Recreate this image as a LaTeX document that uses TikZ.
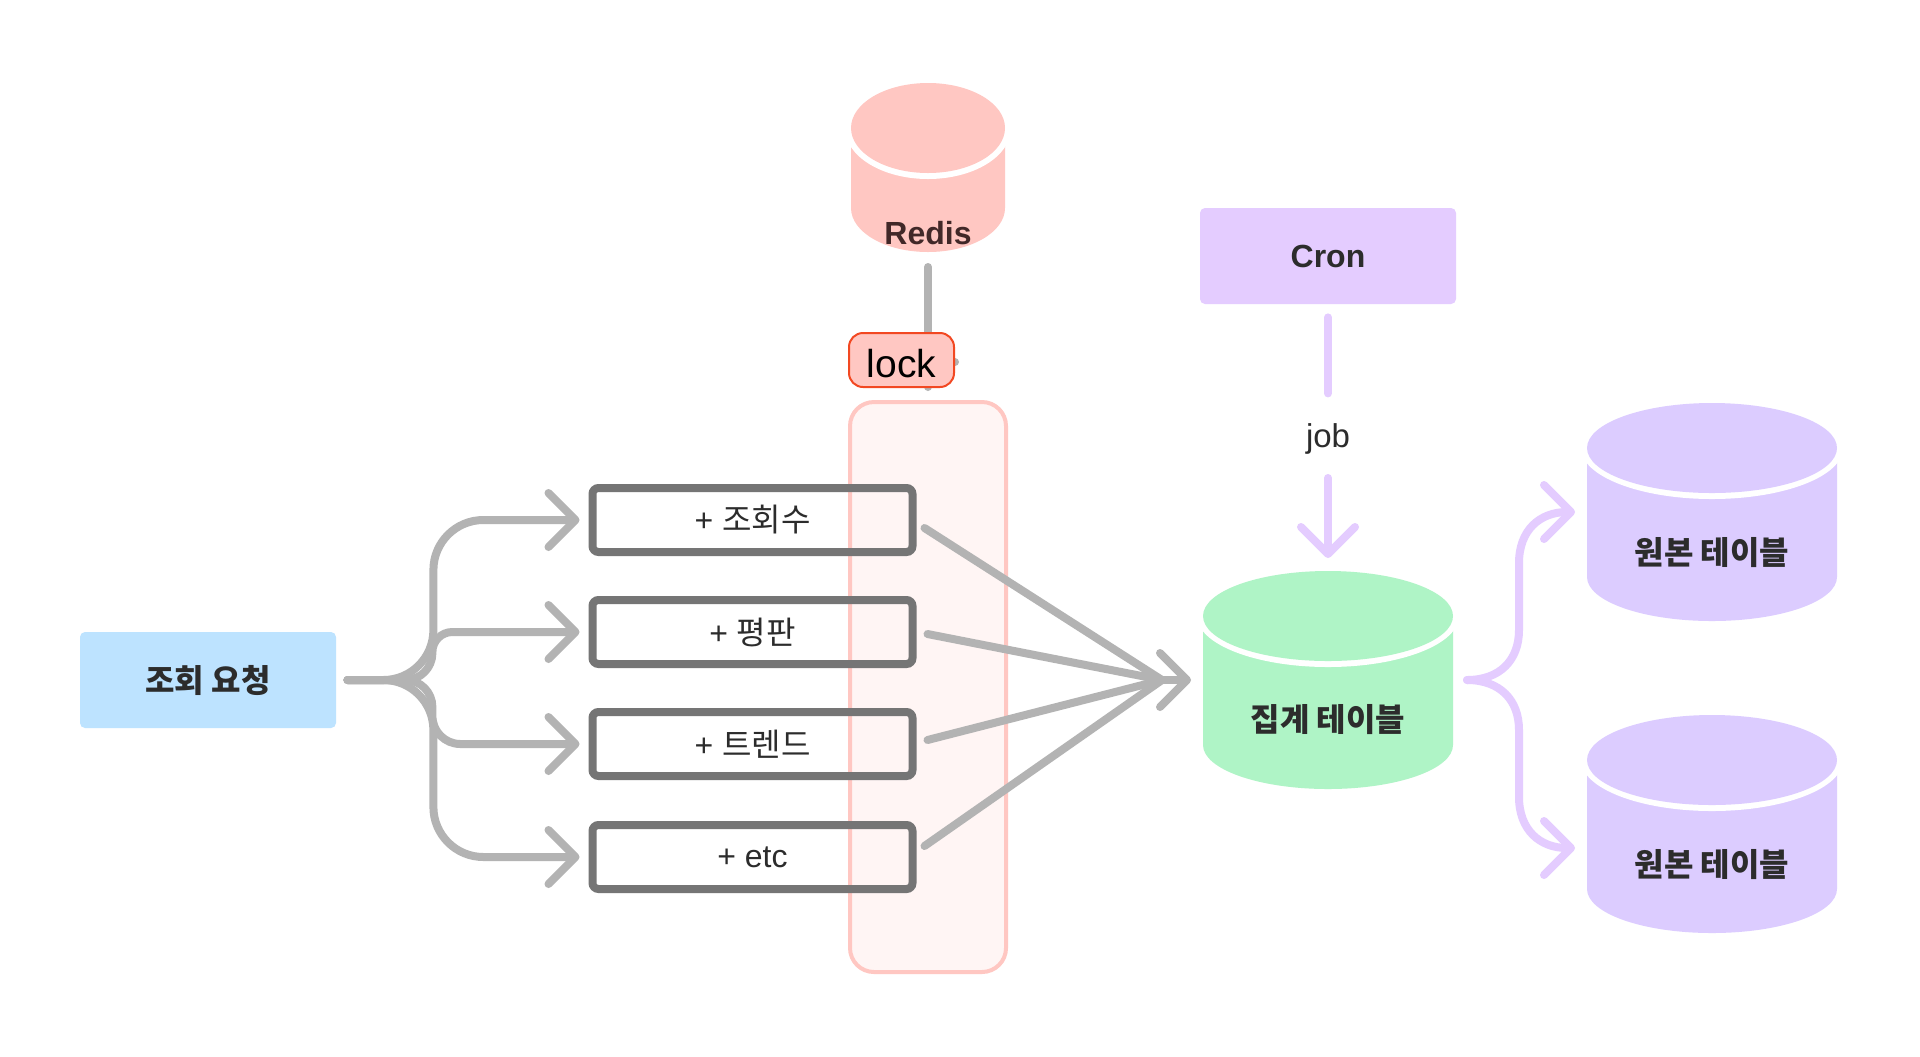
\documentclass[tikz,border=0pt]{standalone}
\usepackage{fontspec}
\usetikzlibrary{arrows.meta,calc}
\setmainfont{Liberation Sans}
\newfontfamily\krfont{Noto Sans CJK KR}
\definecolor{linegray}{HTML}{B3B3B3}
\definecolor{boxgray}{HTML}{757575}
\definecolor{lilac}{HTML}{E4CCFF}
\definecolor{srcfill}{HTML}{DCCCFF}
\definecolor{reqblue}{HTML}{BDE3FF}
\definecolor{redisred}{HTML}{FFC7C2}
\definecolor{lockedge}{HTML}{F24822}
\definecolor{palepink}{HTML}{FFF5F4}
\definecolor{mint}{HTML}{AFF4C6}
\definecolor{inkdark}{HTML}{2C2C2C}
\tikzset{
  x=0.5pt,y=-0.5pt,
  conn/.style={line width=4pt,line cap=round,line join=round},
  arrowed/.style={conn,-{Straight Barb[length=13.5pt,width=27pt,round]}},
  optbox/.style={draw=boxgray,line width=4pt,rounded corners=3pt,minimum width=160pt,minimum height=32pt,inner sep=0pt,
     font=\fontsize{16pt}{19pt}\selectfont,text=inkdark},
  flatbox/.style={rounded corners=2.5pt,inner sep=0pt,minimum width=128pt,minimum height=48pt,
     font=\krfont\bfseries\fontsize{16pt}{19pt}\selectfont},
  cylabel/.style={inner sep=0pt,font=\krfont\bfseries\fontsize{16pt}{19pt}\selectfont},
}
% #1 name, #2 centre x, #3 top-ellipse centre y, #4 rx, #5 height between ellipse centres, #6 colour
\newcommand{\cylshape}[6]{%
  \fill[#6] (#2-#4,#3) -- (#2-#4,#3+#5) arc[start angle=180,end angle=0,x radius=#4,y radius=44]
     -- (#2+#4,#3) -- cycle;
  \fill[white] (#2,#3) ellipse[x radius=#4+6,y radius=51];
  \fill[#6] (#2,#3) ellipse[x radius=#4,y radius=45];
  \coordinate (#1) at (#2,#3);
}
\begin{document}
\begin{tikzpicture}
\useasboundingbox (0,0) rectangle (1920,1056);
\fill[white] (0,0) rectangle (1920,1056);

% lock container
\node[draw=redisred,fill=palepink,line width=2pt,rounded corners=12pt,inner sep=0pt,minimum width=78pt,minimum height=285pt] (region) at (928,687) {};

% request
\node[flatbox,fill=reqblue,text=inkdark] (req) at (208,680) {조회 요청};

% options
\node[optbox] (b1) at (752.5,520) {\raisebox{-0.5pt}{+ \krfont 조회수}};
\node[optbox] (b2) at (752.5,632) {\raisebox{-0.5pt}{+ \krfont 평판}};
\node[optbox] (b3) at (752.5,744) {\raisebox{-0.5pt}{+ \krfont 트렌드}};
\node[optbox] (b4) at (752.5,857) {\raisebox{-0.5pt}{+ etc}};

% cylinders
\cylshape{redis}{928}{128}{77}{80}{redisred}
\cylshape{agg}{1328}{616}{125}{129}{mint}
\cylshape{srca}{1712}{448}{125}{129}{srcfill}
\cylshape{srcb}{1712}{760}{125}{129}{srcfill}
\node[inner sep=0pt,font=\bfseries\fontsize{16pt}{19pt}\selectfont,text=inkdark!90!red] (redislabel) at (928,233) {Redis};
\node[cylabel,text=inkdark] (agglabel) at (1328,720) {집계 테이블};
\node[cylabel,text=inkdark] (srcalabel) at (1712,553) {원본 테이블};
\node[cylabel,text=inkdark] (srcblabel) at (1712,865) {원본 테이블};

% cron
\node[flatbox,fill=lilac,text=inkdark,font=\bfseries\fontsize{16pt}{19pt}\selectfont] (cron) at (1328,256) {Cron};
\node[inner sep=0pt,text=inkdark,font=\fontsize{16.5pt}{19pt}\selectfont] (job) at (1328,439) {job};

% Redis to lock
\draw[conn,linegray] ($(redis)+(0,139)$) -- ($(redis)+(0,259)$);
\coordinate (stub) at (955,362);
\draw[conn,linegray] ($(stub)+(-8,0)$) -- (stub);
\node[draw=lockedge,fill=redisred,line width=1pt,rounded corners=7pt,inner sep=0pt,minimum width=52.5pt,minimum height=27pt] (lock) at (901.5,360) {};
\node[inner sep=0pt,font=\fontsize{19.5pt}{22pt}\selectfont,text=black] (locklabel) at (901.5,363.5) {lock};

% request fan-out
\coordinate (fan) at ($(req.east)+(11,0)$);
\draw[arrowed,linegray] (fan) -- ++(36,0) arc[start angle=90,end angle=0,radius=50] -- ++(0,-60) arc[start angle=180,end angle=270,radius=50] -- ($(b1.west)+(-9,0)$);
\draw[arrowed,linegray] (fan) -- ++(58,0) arc[start angle=90,end angle=0,radius=27] -- ++(0,-1) arc[start angle=180,end angle=270,radius=20] -- ($(b2.west)+(-9,0)$);
\draw[arrowed,linegray] (fan) -- ++(58,0) arc[start angle=-90,end angle=0,radius=27] -- ++(0,9) arc[start angle=180,end angle=90,radius=28] -- ($(b3.west)+(-9,0)$);
\draw[arrowed,linegray] (fan) -- ++(36,0) arc[start angle=-90,end angle=0,radius=50] -- ++(0,77) arc[start angle=180,end angle=90,radius=50] -- ($(b4.west)+(-9,0)$);

% merge
\coordinate (merge) at (1162,680);
\draw[conn,linegray] ($(b1.east)+(8,8)$) -- (merge);
\draw[conn,linegray] ($(b2.east)+(11,2)$) -- (merge);
\draw[conn,linegray] ($(b3.east)+(11,-4)$) -- (merge);
\draw[conn,linegray] ($(b4.east)+(8,-11)$) -- (merge);
\draw[arrowed,linegray] (merge) -- (1191,680);

% cron to agg
\draw[conn,lilac] ($(cron.south)+(0,13)$) -- ($(cron.south)+(0,89)$);
\draw[arrowed,lilac] ($(job.center)+(0,39)$) -- ($(agg)+(0,-58)$);

% agg to sources
\coordinate (split) at (1467,680);
\draw[arrowed,lilac] (split) .. controls (1500,680) and (1519,660) .. (1519,630) -- (1519,563) .. controls (1519,530) and (1540,512) .. (1575,512);
\draw[arrowed,lilac] (split) .. controls (1500,680) and (1519,700) .. (1519,730) -- (1519,797) .. controls (1519,830) and (1540,848) .. (1575,848);
\end{tikzpicture}
\end{document}
